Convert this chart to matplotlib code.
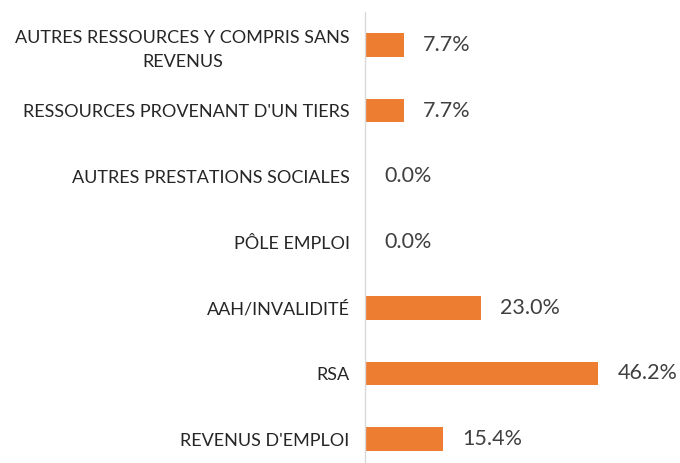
import numpy as np
import matplotlib.pyplot as plt

categories = ["AUTRES RESSOURCES Y COMPRIS SANS\nREVENUS",
              "RESSOURCES PROVENANT D'UN TIERS",
              "AUTRES PRESTATIONS SOCIALES",
              "PÔLE EMPLOI",
              "AAH/INVALIDITÉ",
              "RSA",
              "REVENUS D'EMPLOI"]
values = [7.7, 7.7, 0.0, 0.0, 23.0, 46.2, 15.4]

plt.rcParams['font.family'] = ['Lato', 'DejaVu Sans']

fig = plt.figure(figsize=(6.8, 4.63), dpi=100)
ax = fig.add_axes([365 / 680, -9 / 463, 315 / 680, 460 / 463])

y = np.arange(len(categories))[::-1]
ax.barh(y, values, height=0.36, color="#ED7D31")
ax.set_xlim(0, 315 / 5.04)
ax.set_ylim(-0.5, len(categories) - 0.5)

for yi, v in zip(y, values):
    ax.annotate(f"{v:.1f}%", (v, yi), xytext=(14, 0), textcoords="offset points",
                va="center", ha="left", fontsize=15.5, color="#404040")

ax.set_yticks(y)
ax.set_yticklabels(categories, fontsize=13, color="#262626",
                   multialignment="center", linespacing=1.55)
ax.tick_params(axis="y", length=0, pad=11)
ax.set_xticks([])

for side in ["top", "right", "bottom"]:
    ax.spines[side].set_visible(False)
ax.spines["left"].set_color("#D9D9D9")
ax.spines["left"].set_linewidth(1.0)

fig.savefig("out.png", dpi=100)
